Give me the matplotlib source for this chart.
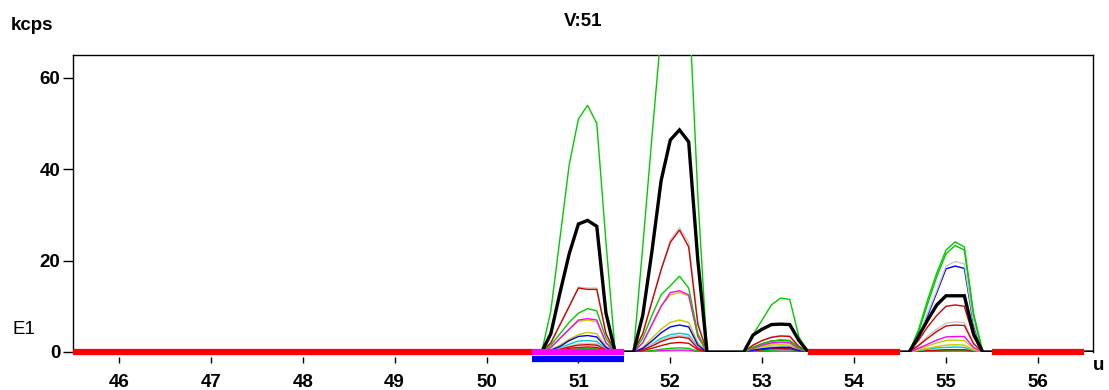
import numpy as np
import matplotlib
matplotlib.use("Agg")
import matplotlib.pyplot as plt
import matplotlib.transforms as mtransforms

# sample positions (u) for the four peak windows, plus axis ends
x_p51 = [50.6, 50.7, 50.8, 50.9, 51.0, 51.1, 51.2, 51.3, 51.4]
x_p52 = [51.6, 51.7, 51.8, 51.9, 52.0, 52.1, 52.2, 52.3, 52.4]
x_p53 = [52.8, 52.9, 53.0, 53.1, 53.2, 53.3, 53.4, 53.5]
x_p55 = [54.6, 54.7, 54.8, 54.9, 55.0, 55.1, 55.2, 55.3, 55.4]
x_ends = [45.5, 56.6]

# kcps values per trace, per peak window
green1_51 = [0, 9, 25, 41, 51, 54, 50, 24, 0]
green1_52 = [0, 23, 47, 70, 85, 90, 78, 34, 0]
green1_53 = [0, 3.8, 7, 10.3, 11.8, 11.5, 3.3, 0]
green1_55 = [0, 4.8, 11.4, 17.3, 22.3, 24.1, 23, 8.5, 0]

black_51 = [0, 4, 13, 21.5, 28, 28.8, 27.5, 8.5, 0]
black_52 = [0, 8, 22, 37.5, 46.4, 48.6, 46, 20, 0]
black_53 = [0, 3.7, 5, 6, 6.1, 6.0, 2.5, 0]
black_55 = [0, 3.4, 7, 10.3, 12.3, 12.3, 12.3, 4, 0]

red1_51 = [0, 2, 6, 10, 14, 13.7, 13.7, 4, 0]
red1_52 = [0, 4, 11, 18, 24, 26.7, 23, 6, 0]
red1_53 = [0, 1.5, 2.5, 3.2, 3.5, 3.4, 1.2, 0]
red1_55 = [0, 2.5, 5.5, 8, 10, 10.3, 10, 3.3, 0]

gray1_51 = [0, 2, 6, 10, 14.2, 14, 14, 4, 0]
gray1_52 = [0, 4, 11, 18, 24.5, 27.2, 24, 6.5, 0]
gray1_53 = [0, 1.5, 2.5, 3.3, 3.6, 3.5, 1.2, 0]
gray1_55 = [0, 3.5, 8.5, 13.5, 18.8, 19.8, 19.3, 6.5, 0]

green2_51 = [0, 1.5, 4, 6.5, 8.5, 9.5, 9, 3, 0]
green2_52 = [0, 3, 8, 12.5, 14.5, 16.6, 14, 4, 0]
green2_53 = [0, 1, 1.8, 2.4, 2.6, 2.5, 0.9, 0]
green2_55 = [0, 4.3, 10.5, 16.5, 21.5, 23.3, 22.3, 8, 0]

blue1_51 = [0, 0.4, 1.2, 2.5, 3.4, 3.6, 3.3, 1, 0]
blue1_52 = [0, 0.8, 2.4, 4.2, 5.5, 5.9, 5.5, 1.5, 0]
blue1_53 = [0, 0.4, 0.7, 0.9, 1.0, 1.0, 0.3, 0]
blue1_55 = [0, 3.3, 8, 13, 18.2, 18.8, 18.3, 6, 0]

magenta1_51 = [0, 1, 3, 5, 7, 7.3, 7, 2, 0]
magenta1_52 = [0, 2, 6, 10, 13, 13.4, 12.5, 3.5, 0]
magenta1_53 = [0, 0.8, 1.5, 2.0, 2.2, 2.1, 0.7, 0]
magenta1_55 = [0, 0.8, 1.7, 2.6, 3.3, 3.4, 3.4, 1, 0]

yellow1_51 = [0, 1, 3, 5, 6.7, 7, 6.6, 2, 0]
yellow1_52 = [0, 2, 6, 10, 12.5, 13, 12.3, 3.3, 0]
yellow1_53 = [0, 0.8, 1.4, 1.8, 2.0, 1.9, 0.7, 0]
yellow1_55 = [0, 0.6, 1.3, 2, 2.5, 2.6, 2.5, 0.8, 0]

yellow2_51 = [0, 0.5, 1.5, 2.8, 3.8, 4.3, 4, 1.2, 0]
yellow2_52 = [0, 1, 3, 5, 6.5, 7, 6.5, 2, 0]
yellow2_53 = [0, 0.6, 1.1, 1.5, 1.6, 1.5, 0.5, 0]
yellow2_55 = [0, 0.4, 0.8, 1.2, 1.5, 1.6, 1.5, 0.5, 0]

cyan_51 = [0, 0.3, 0.9, 1.7, 2.4, 2.5, 2.3, 0.7, 0]
cyan_52 = [0, 0.6, 1.7, 3, 3.8, 4.1, 3.8, 1, 0]
cyan_53 = [0, 0.4, 0.8, 1.1, 1.2, 1.1, 0.4, 0]
cyan_55 = [0, 0.3, 0.6, 0.9, 1.0, 1.1, 1.0, 0.3, 0]

red2_51 = [0, 0.2, 0.6, 1.1, 1.5, 1.6, 1.5, 0.5, 0]
red2_52 = [0, 0.5, 1.3, 2.3, 3.0, 3.3, 3.0, 0.8, 0]
red2_53 = [0, 1.0, 1.8, 2.4, 2.6, 2.5, 0.9, 0]
red2_55 = [0, 1.4, 3, 4.5, 5.7, 5.9, 5.8, 1.8, 0]

gray2_51 = [0, 0.3, 0.8, 1.3, 1.8, 1.9, 1.8, 0.6, 0]
gray2_52 = [0, 0.6, 1.6, 2.6, 3.4, 3.6, 3.4, 1, 0]
gray2_53 = [0, 0.5, 0.9, 1.2, 1.3, 1.3, 0.4, 0]
gray2_55 = [0, 1.5, 3.5, 5, 6.3, 6.6, 6.4, 2, 0]

red3_51 = [0, 0.1, 0.4, 0.8, 1.0, 1.1, 1.0, 0.3, 0]
red3_52 = [0, 0.3, 0.8, 1.4, 1.9, 2.1, 1.9, 0.5, 0]
red3_53 = [0, 0.3, 0.5, 0.7, 0.8, 0.7, 0.3, 0]
red3_55 = [0, 0.1, 0.3, 0.4, 0.5, 0.5, 0.5, 0.2, 0]

green3_51 = [0, 0.1, 0.3, 0.5, 0.7, 0.8, 0.7, 0.2, 0]
green3_52 = [0, 0.1, 0.3, 0.6, 0.8, 0.9, 0.8, 0.2, 0]
green3_53 = [0, 0.2, 0.3, 0.4, 0.5, 0.5, 0.2, 0]
green3_55 = [0, 0.1, 0.2, 0.3, 0.4, 0.4, 0.4, 0.1, 0]

magenta2_51 = [0, 0.05, 0.1, 0.2, 0.3, 0.3, 0.3, 0.1, 0]
magenta2_52 = [0, 0.05, 0.2, 0.3, 0.4, 0.4, 0.4, 0.1, 0]
magenta2_53 = [0, 0.1, 0.1, 0.2, 0.2, 0.2, 0.1, 0]
magenta2_55 = [0, 0.05, 0.1, 0.1, 0.2, 0.2, 0.2, 0.1, 0]

# marker bars (u ranges) along the baseline
red_bar_ranges = [(45.5, 50.5), (53.5, 54.5), (55.5, 56.5)]
sel_bar_range = (50.5, 51.5)

x_ticks = [46, 47, 48, 49, 50, 51, 52, 53, 54, 55, 56]
y_ticks = [0, 20, 40, 60]

GREEN = "#00CC00"
RED = "#D40000"
GRAY = "#C8C8C8"
BLUE = "#0000FF"
MAGENTA = "#FF00FF"
YELLOW = "#C8C800"
CYAN = "#00C8C8"

traces = [
    ("magenta2", MAGENTA, 1.0, magenta2_51, magenta2_52, magenta2_53, magenta2_55),
    ("green3", GREEN, 1.0, green3_51, green3_52, green3_53, green3_55),
    ("red3", RED, 1.0, red3_51, red3_52, red3_53, red3_55),
    ("cyan", CYAN, 1.0, cyan_51, cyan_52, cyan_53, cyan_55),
    ("gray2", GRAY, 1.0, gray2_51, gray2_52, gray2_53, gray2_55),
    ("red2", RED, 1.0, red2_51, red2_52, red2_53, red2_55),
    ("yellow2", YELLOW, 1.0, yellow2_51, yellow2_52, yellow2_53, yellow2_55),
    ("blue1", BLUE, 1.0, blue1_51, blue1_52, blue1_53, blue1_55),
    ("yellow1", YELLOW, 1.0, yellow1_51, yellow1_52, yellow1_53, yellow1_55),
    ("magenta1", MAGENTA, 1.0, magenta1_51, magenta1_52, magenta1_53, magenta1_55),
    ("gray1", GRAY, 1.0, gray1_51, gray1_52, gray1_53, gray1_55),
    ("red1", RED, 1.0, red1_51, red1_52, red1_53, red1_55),
    ("green2", GREEN, 1.0, green2_51, green2_52, green2_53, green2_55),
    ("green1", GREEN, 1.0, green1_51, green1_52, green1_53, green1_55),
    ("black", "#000000", 2.4, black_51, black_52, black_53, black_55),
]

plt.rcParams['font.family'] = ['Liberation Sans', 'DejaVu Sans']
FS = 13.5

fig = plt.figure(figsize=(11.09, 3.90), dpi=100)
ax = fig.add_axes([73 / 1109, 1 - 352 / 390, (1093 - 73) / 1109, (352 - 55) / 390])

xs_all = [x_ends[0]] + x_p51 + x_p52 + x_p53 + x_p55 + [x_ends[1]]
for name, col, lw, v51, v52, v53, v55 in traces:
    ys = [0] + v51 + v52 + v53 + v55 + [0]
    ax.plot(xs_all, ys, color=col, lw=lw, solid_joinstyle='miter',
            zorder=3 if name != "black" else 4)

for a, b in red_bar_ranges:
    ax.plot([a, b], [0, 0], color="#FF0000", lw=4.5, solid_capstyle='butt', zorder=5, clip_on=False)
ax.plot(list(sel_bar_range), [0, 0], color=MAGENTA, lw=4.5, solid_capstyle='butt', zorder=5, clip_on=False)
ax.plot(list(sel_bar_range), [-1.55, -1.55], color=BLUE, lw=4.5, solid_capstyle='butt', zorder=5, clip_on=False)

ax.set_xlim(45.5, 56.6)
ax.set_ylim(0, 65)
ax.set_xticks(x_ticks)
ax.set_yticks(y_ticks)
ax.set_xticklabels([str(t) for t in x_ticks], fontweight='bold', fontsize=FS)
ax.set_yticklabels([str(t) for t in y_ticks], fontweight='bold', fontsize=FS)

for s in ['left', 'top', 'right', 'bottom']:
    ax.spines[s].set_linewidth(1.0)
    ax.spines[s].set_color('#000000')
ax.spines['bottom'].set_visible(False)
ax.axhline(0, color='#000000', lw=1.0, zorder=2)

ax.tick_params(axis='x', direction='out', length=4, width=1, pad=8, colors='#000000')
ax.tick_params(axis='y', direction='out', length=7, width=1, pad=2, colors='#000000')
offset = mtransforms.ScaledTranslation(0, -5 / 100, fig.dpi_scale_trans)
for t in ax.xaxis.get_major_ticks():
    t.tick1line.set_transform(t.tick1line.get_transform() + offset)
    t.label1.set_transform(t.label1.get_transform() + offset)

fig.text(11 / 1109, 1 - 25 / 390, "kcps", fontweight='bold', fontsize=FS, va='center', ha='left')
fig.text(583 / 1109, 1 - 22 / 390, "V:51", fontweight='bold', fontsize=FS, va='center', ha='center')
fig.text(12 / 1109, 1 - 330 / 390, "E1", fontsize=FS, va='center', ha='left')
fig.text(1093 / 1109, 1 - 365 / 390, "u", fontweight='bold', fontsize=FS, va='center', ha='left')

fig.savefig("out.png", dpi=100, facecolor='white')
